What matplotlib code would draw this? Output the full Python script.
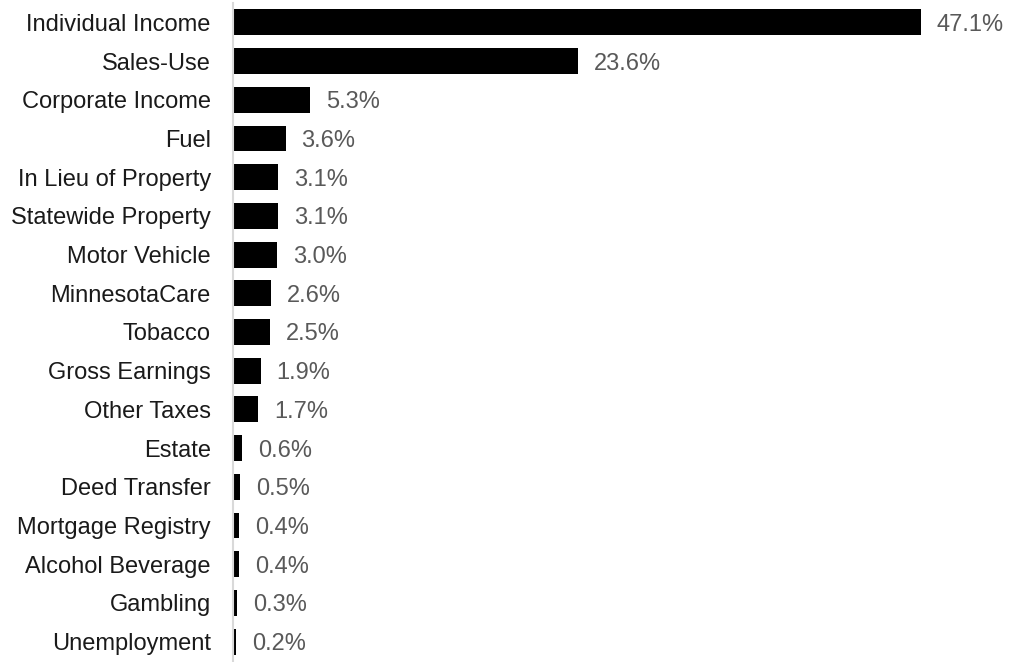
import numpy as np
import matplotlib.pyplot as plt

plt.rcParams['font.family'] = ['Liberation Sans', 'DejaVu Sans']

categories = ['Individual Income', 'Sales-Use', 'Corporate Income', 'Fuel',
              'In Lieu of Property', 'Statewide Property', 'Motor Vehicle',
              'MinnesotaCare', 'Tobacco', 'Gross Earnings', 'Other Taxes',
              'Estate', 'Deed Transfer', 'Mortgage Registry', 'Alcohol Beverage',
              'Gambling', 'Unemployment']
shares = [47.1, 23.6, 5.3, 3.6, 3.1, 3.1, 3.0, 2.6, 2.5, 1.9, 1.7,
          0.6, 0.5, 0.4, 0.4, 0.3, 0.2]

fig = plt.figure(figsize=(10.12, 6.62), dpi=100)
ax = fig.add_axes([233 / 1012, 1 / 662, 730 / 1012, 658 / 662])

y = np.arange(len(categories))
ax.barh(y, shares, height=0.67, color='black')

# value labels right of each bar
for yi, v in zip(y, shares):
    ax.annotate(f'{v:.1f}%', xy=(v, yi), xytext=(16, 0), textcoords='offset pixels',
                va='center_baseline', ha='left', fontsize=17, color='#595959')

ax.set_yticks(y)
ax.set_yticklabels(categories, fontsize=17, color='#1a1a1a', va='center_baseline')
ax.tick_params(axis='y', length=0, pad=16)
ax.set_ylim(len(categories) - 0.5, -0.5)
ax.set_xlim(0, 50)
ax.set_xticks([])

for side in ['top', 'right', 'bottom']:
    ax.spines[side].set_visible(False)
ax.spines['left'].set_color('#d9d9d9')
ax.spines['left'].set_linewidth(1.5)

plt.savefig('out.png', dpi=100)
